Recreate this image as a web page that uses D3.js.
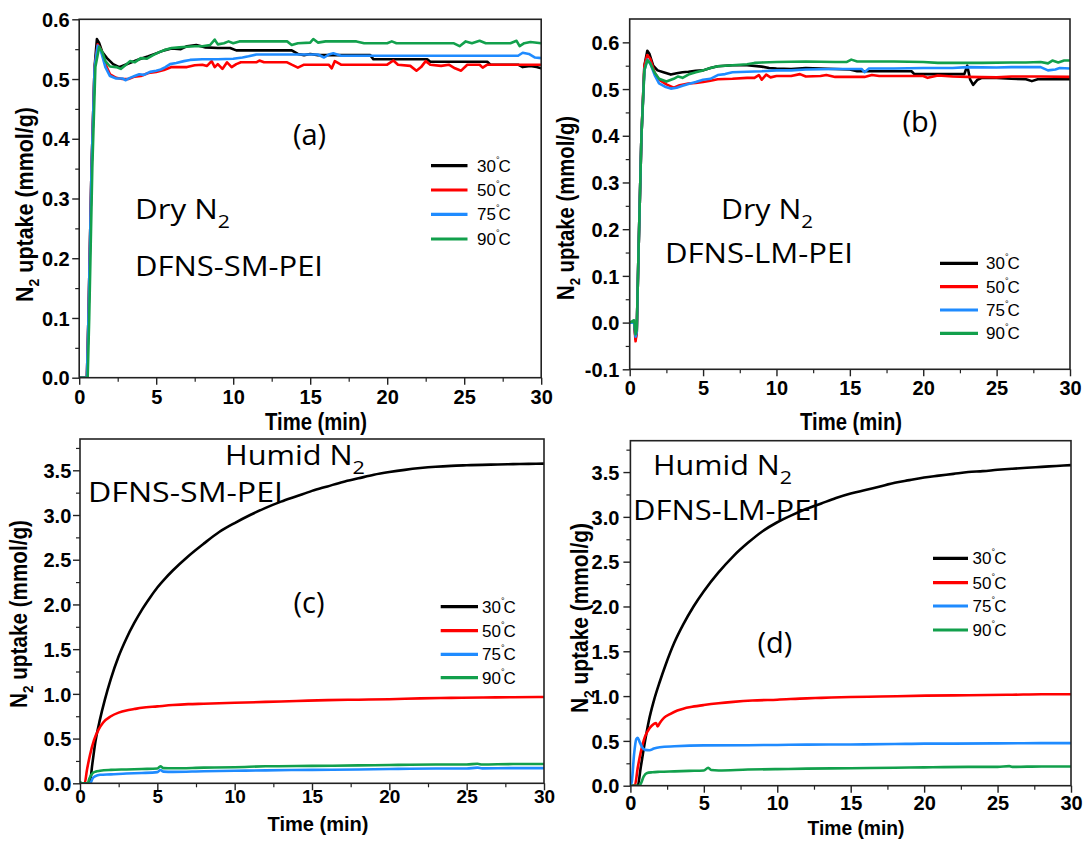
<!DOCTYPE html>
<html><head><meta charset="utf-8">
<script src="https://cdn.jsdelivr.net/npm/d3@7"></script>
<style>body{margin:0;background:#fff}svg{display:block}</style>
</head><body>
<svg id="chart" width="1087" height="845"></svg>
<script>
// ---------------- DATA ----------------
const seriesLabels = ["30", "50", "75", "90"];
const xTicks = [0, 5, 10, 15, 20, 25, 30];
const xMinorTicks = [2.5, 7.5, 12.5, 17.5, 22.5, 27.5];
const yTicksA = [0.0, 0.1, 0.2, 0.3, 0.4, 0.5, 0.6];
const yMinorA = [0.05, 0.15, 0.25, 0.35, 0.45, 0.55];
const yTicksB = [-0.1, 0.0, 0.1, 0.2, 0.3, 0.4, 0.5, 0.6];
const yMinorB = [-0.05, 0.05, 0.15, 0.25, 0.35, 0.45, 0.55];
const yTicksHumid = [0.0, 0.5, 1.0, 1.5, 2.0, 2.5, 3.0, 3.5];
const yMinorHumid = [0.25, 0.75, 1.25, 1.75, 2.25, 2.75, 3.25, 3.75];

// panel (a) Dry N2, DFNS-SM-PEI  [time (min), uptake (mmol/g)]
const a30 = [[0,0],[0.5,0],[0.6,0.1],[0.8,0.35],[1.0,0.52],[1.15,0.567],[1.3,0.56],[1.5,0.545],[1.8,0.535],[2.2,0.525],[2.6,0.52],[3.0,0.524],[3.4,0.528],[3.9,0.533],[4.5,0.538],[5.0,0.543],[5.5,0.548],[6.0,0.551],[6.6,0.55],[7.0,0.555],[7.6,0.557],[8.2,0.553],[9.0,0.552],[9.8,0.552],[10.2,0.548],[12,0.548],[13.8,0.548],[14.2,0.542],[14.6,0.54],[15,0.542],[15.5,0.54],[18.9,0.54],[19.1,0.533],[22.6,0.533],[22.8,0.529],[26.5,0.529],[26.7,0.524],[28.5,0.524],[28.8,0.52],[29.3,0.522],[29.7,0.52],[30,0.518]];
const a50 = [[0,0],[0.5,0],[0.6,0.1],[0.8,0.35],[1.0,0.52],[1.2,0.558],[1.4,0.55],[1.7,0.525],[2.0,0.508],[2.4,0.502],[2.8,0.5],[3.2,0.5],[3.6,0.504],[4.0,0.505],[4.5,0.51],[5.0,0.512],[5.5,0.515],[6.0,0.52],[6.5,0.52],[7.0,0.52],[7.5,0.523],[8.0,0.524],[8.3,0.522],[8.6,0.53],[8.8,0.52],[9.0,0.525],[9.3,0.517],[9.6,0.528],[9.9,0.52],[10.2,0.525],[10.5,0.528],[11.5,0.528],[11.7,0.531],[12,0.528],[13.5,0.528],[13.8,0.524],[14.2,0.519],[14.6,0.524],[16.2,0.524],[16.4,0.518],[16.6,0.53],[17,0.524],[20,0.524],[20.4,0.531],[20.7,0.524],[21.5,0.522],[21.9,0.514],[22.2,0.52],[22.5,0.53],[22.8,0.524],[23.5,0.522],[24,0.524],[24.4,0.518],[24.8,0.514],[25.2,0.524],[26,0.524],[26.2,0.519],[26.5,0.524],[30,0.524]];
const a75 = [[0,0],[0.5,0],[0.6,0.1],[0.8,0.35],[1.0,0.52],[1.2,0.556],[1.4,0.548],[1.7,0.52],[2.0,0.505],[2.4,0.501],[2.8,0.501],[3.0,0.498],[3.3,0.502],[3.6,0.505],[3.9,0.508],[4.2,0.507],[4.6,0.512],[5.0,0.514],[5.3,0.516],[5.6,0.52],[5.9,0.525],[6.3,0.527],[6.8,0.53],[7.2,0.532],[8,0.533],[9,0.533],[10,0.534],[10.6,0.536],[11,0.538],[11.5,0.541],[14,0.541],[15.5,0.541],[15.9,0.536],[16.2,0.541],[16.5,0.543],[17,0.539],[20,0.539],[25,0.539],[28.5,0.539],[28.8,0.544],[29.2,0.542],[29.6,0.536],[30,0.535]];
const a90 = [[0,0],[0.55,0],[0.65,0.1],[0.85,0.35],[1.05,0.52],[1.3,0.554],[1.5,0.545],[1.7,0.53],[2.0,0.521],[2.4,0.52],[2.7,0.517],[3.0,0.523],[3.3,0.53],[3.6,0.528],[4.0,0.535],[4.4,0.534],[4.8,0.54],[5.2,0.545],[5.6,0.549],[6,0.552],[6.5,0.553],[7,0.554],[7.5,0.555],[8,0.555],[8.5,0.557],[8.8,0.566],[9.0,0.558],[9.4,0.56],[9.7,0.563],[10,0.56],[10.4,0.563],[13.5,0.563],[13.8,0.557],[14.2,0.56],[15,0.561],[15.2,0.567],[15.5,0.561],[16,0.563],[18,0.563],[18.5,0.56],[20,0.56],[20.3,0.563],[20.6,0.56],[24.3,0.56],[24.7,0.555],[25.1,0.563],[25.5,0.56],[26,0.564],[26.4,0.56],[28,0.56],[28.4,0.564],[28.6,0.555],[28.9,0.56],[29.3,0.562],[30,0.56]];

// panel (b) Dry N2, DFNS-LM-PEI
const b30 = [[0,0],[0.3,0],[0.4,-0.035],[0.48,-0.02],[0.6,0.15],[0.8,0.4],[1.0,0.55],[1.2,0.582],[1.35,0.575],[1.6,0.55],[1.9,0.54],[2.3,0.536],[2.8,0.531],[3.2,0.534],[3.6,0.536],[4.0,0.537],[4.5,0.539],[5.0,0.54],[5.5,0.545],[6,0.549],[7,0.551],[8,0.551],[9,0.548],[9.5,0.545],[10,0.544],[11,0.543],[12,0.545],[13,0.544],[14,0.543],[15,0.542],[15.5,0.538],[17,0.538],[19.2,0.538],[19.4,0.532],[22.8,0.532],[23.0,0.55],[23.2,0.52],[23.4,0.509],[23.7,0.52],[24,0.524],[25,0.524],[26,0.522],[27,0.521],[27.4,0.517],[27.8,0.521],[30,0.521]];
const b50 = [[0,0],[0.3,0],[0.4,-0.04],[0.48,-0.02],[0.6,0.15],[0.8,0.4],[1.0,0.55],[1.2,0.573],[1.4,0.565],[1.7,0.535],[2.0,0.52],[2.5,0.51],[3.0,0.503],[3.4,0.508],[4,0.512],[4.5,0.513],[5,0.515],[5.5,0.518],[6,0.521],[7,0.522],[8,0.524],[8.5,0.524],[8.8,0.53],[9.0,0.52],[9.3,0.531],[9.6,0.525],[10,0.528],[11,0.528],[11.6,0.532],[12,0.527],[13,0.528],[13.4,0.53],[14,0.526],[16,0.526],[16.5,0.53],[17,0.528],[20,0.528],[20.3,0.524],[21,0.529],[22,0.527],[23,0.526],[25,0.525],[26,0.527],[28,0.527],[30,0.526]];
const b75 = [[0,0],[0.3,0],[0.4,-0.03],[0.48,-0.02],[0.6,0.15],[0.8,0.4],[1.0,0.54],[1.2,0.563],[1.4,0.555],[1.7,0.53],[2.0,0.512],[2.4,0.505],[2.8,0.501],[3.2,0.503],[3.6,0.507],[4,0.511],[4.5,0.515],[5,0.52],[5.5,0.522],[6,0.53],[6.5,0.532],[7,0.536],[8,0.537],[9,0.538],[10,0.54],[11,0.54],[12,0.542],[14,0.543],[15.8,0.543],[16,0.536],[16.3,0.544],[18,0.544],[20,0.545],[22,0.545],[23,0.547],[25,0.546],[26,0.547],[28,0.547],[28.5,0.54],[29,0.542],[29.3,0.545],[30,0.544]];
const b90 = [[0,0],[0.3,0.005],[0.4,-0.025],[0.48,-0.015],[0.6,0.15],[0.8,0.4],[1.0,0.54],[1.2,0.562],[1.4,0.555],[1.7,0.535],[2.0,0.522],[2.5,0.516],[3.0,0.522],[3.3,0.527],[3.6,0.524],[4,0.531],[4.5,0.536],[5,0.54],[5.5,0.545],[6,0.549],[7,0.551],[8,0.553],[8.5,0.556],[9,0.557],[10,0.558],[12,0.559],[14,0.558],[14.8,0.558],[15.1,0.563],[15.5,0.559],[18,0.559],[20,0.558],[21,0.556],[24,0.556],[26,0.557],[27,0.557],[28,0.558],[28.5,0.555],[28.8,0.561],[29.2,0.557],[29.6,0.561],[30,0.561]];

// panel (c) Humid N2, DFNS-SM-PEI
const c30 = [[0,0],[0.62,0],[0.8,0.22],[1.0,0.47],[1.3,0.72],[1.6,0.93],[2.0,1.17],[2.5,1.42],[3.0,1.62],[3.5,1.79],[4.0,1.94],[4.5,2.07],[5.0,2.19],[5.5,2.29],[6.0,2.38],[7.0,2.54],[8.0,2.68],[9.0,2.81],[10,2.91],[11,3.0],[12,3.08],[13,3.15],[14,3.21],[15,3.27],[16,3.32],[17,3.37],[18,3.41],[19,3.45],[20,3.48],[21,3.505],[22,3.525],[23,3.54],[24,3.55],[25,3.556],[26,3.561],[27,3.565],[28,3.569],[29,3.572],[30,3.575]];
const c50 = [[0,0],[0.3,0],[0.45,0.15],[0.65,0.32],[0.9,0.48],[1.2,0.6],[1.5,0.68],[2.0,0.75],[2.5,0.79],[3.0,0.815],[3.5,0.83],[4,0.845],[5,0.86],[6,0.875],[7,0.885],[8,0.89],[9,0.895],[10,0.9],[12,0.91],[14,0.92],[16,0.93],[18,0.935],[20,0.94],[22,0.95],[24,0.955],[26,0.96],[28,0.962],[30,0.965]];
const c75 = [[0,0],[0.6,0],[0.7,0.01],[0.8,0.05],[1.0,0.08],[1.3,0.095],[2,0.1],[3,0.11],[4,0.115],[5,0.125],[5.2,0.148],[5.4,0.13],[6,0.128],[8,0.135],[10,0.14],[12,0.145],[15,0.15],[18,0.155],[20,0.16],[23,0.165],[25,0.165],[25.7,0.175],[26,0.167],[28,0.17],[30,0.17]];
const c90 = [[0,0.02],[0.1,0.0],[0.5,0],[0.6,0.05],[0.8,0.11],[1.0,0.13],[1.3,0.14],[2,0.15],[3,0.155],[4,0.16],[5,0.165],[5.2,0.19],[5.4,0.17],[6,0.168],[8,0.175],[10,0.18],[12,0.19],[15,0.195],[18,0.2],[20,0.205],[23,0.21],[25,0.21],[25.7,0.218],[26,0.21],[28,0.215],[30,0.215]];

// panel (d) Humid N2, DFNS-LM-PEI
const d30 = [[0,0],[0.5,0],[0.7,0.2],[1.0,0.5],[1.25,0.72],[1.6,0.95],[2.0,1.16],[2.4,1.35],[3.0,1.6],[3.6,1.8],[4.3,2.0],[5,2.17],[6,2.38],[7,2.56],[8,2.71],[9,2.84],[10,2.94],[11,3.02],[12,3.09],[13,3.15],[14,3.21],[15,3.26],[16,3.3],[17,3.34],[18,3.38],[19,3.41],[20,3.44],[21,3.46],[22,3.48],[23,3.5],[24,3.51],[25,3.525],[26,3.537],[27,3.548],[28,3.558],[29,3.568],[30,3.578]];
const d50 = [[0,0],[0.3,0],[0.5,0.2],[0.7,0.37],[1.0,0.55],[1.3,0.64],[1.6,0.69],[1.75,0.7],[1.85,0.66],[2.0,0.7],[2.3,0.76],[2.7,0.8],[3.2,0.84],[3.6,0.86],[4.2,0.88],[5,0.9],[6,0.92],[7,0.935],[8.3,0.95],[10,0.96],[12,0.975],[13,0.98],[15,0.99],[17,0.995],[20.1,1.005],[23,1.01],[26,1.015],[28,1.02],[30,1.02]];
const d75 = [[0,0],[0.1,0.05],[0.25,0.35],[0.4,0.52],[0.5,0.535],[0.6,0.5],[0.8,0.43],[1.0,0.4],[1.3,0.395],[1.6,0.415],[2,0.43],[3,0.44],[5,0.45],[8,0.452],[10,0.455],[12,0.458],[15,0.46],[18,0.465],[20,0.47],[22,0.47],[25,0.472],[28,0.475],[30,0.475]];
const d90 = [[0,0],[0.6,0],[0.7,0.02],[0.9,0.1],[1.1,0.14],[1.5,0.15],[2,0.155],[3,0.16],[4,0.165],[5,0.17],[5.3,0.2],[5.5,0.175],[6,0.17],[8,0.18],[10,0.185],[12,0.19],[15,0.195],[18,0.2],[20,0.205],[23,0.21],[25,0.21],[25.8,0.218],[26,0.21],[28,0.215],[30,0.215]];

// ---------------- STYLE / LAYOUT ----------------
const colors = ["#000000", "#ff0000", "#1f8bff", "#12a04c"];
const SANS = "'Liberation Sans', Arial, sans-serif";
const ANNO = "'Open Sans', 'Noto Sans', sans-serif";

const panels = [
  { series: [a30, a50, a75, a90], smooth: false, xr: [79.2, 541.2], yr: [377.7, 19.3], ydom: [0, 0.6],
    yTicks: yTicksA, yMinor: yMinorA, xLabOff: 26.6, xLabFs: 20, yLabGap: 9.5,
    xTitle: {cx: 316, by: 430, fs: 24, len: 102},
    yTitle: {bx: 33, cy: 204.5, len: 195},
    legend: {x1: 431, x2: 467.5, ys: [165.7, 190, 214.3, 239], tx: 477},
    annos: [
      {t: "(a)", x: 309.5, y: 145, fs: 29, anchor: "middle"},
      {t: "Dry N", sub: "2", x: 135, y: 219, fs: 28, len: 95},
      {t: "DFNS-SM-PEI", x: 135, y: 276, fs: 28, len: 188}
    ]},
  { series: [b30, b50, b75, b90], smooth: false, xr: [629.7, 1070], yr: [369.3, 19], ydom: [-0.1, 0.65],
    yTicks: yTicksB, yMinor: yMinorB, xLabOff: 25.7, xLabFs: 20, yLabGap: 10.4,
    xTitle: {cx: 851, by: 430, fs: 24, len: 102},
    yTitle: {bx: 574.4, cy: 208, len: 184},
    legend: {x1: 940, x2: 978, ys: [263.3, 286.7, 310, 333.3], tx: 986},
    annos: [
      {t: "(b)", x: 920, y: 132, fs: 29, anchor: "middle"},
      {t: "Dry N", sub: "2", x: 721, y: 219, fs: 28, len: 92},
      {t: "DFNS-LM-PEI", x: 665, y: 263, fs: 28, len: 188}
    ]},
  { series: [c30, c50, c75, c90], smooth: true, xr: [80, 544], yr: [783.3, 439], ydom: [0, 3.85],
    yTicks: yTicksHumid, yMinor: yMinorHumid, xLabOff: 19.5, xLabFs: 19, yLabGap: 8.7,
    xTitle: {cx: 318, by: 830.7, fs: 21, len: 101},
    yTitle: {bx: 26.5, cy: 614, len: 188},
    legend: {x1: 440.7, x2: 478, ys: [606.7, 630.7, 654.3, 677.7], tx: 482},
    annos: [
      {t: "Humid N", sub: "2", x: 225, y: 465, fs: 27, len: 140},
      {t: "DFNS-SM-PEI", x: 88, y: 502, fs: 28, len: 195},
      {t: "(c)", x: 309, y: 613, fs: 29, anchor: "middle"}
    ]},
  { series: [d30, d50, d75, d90], smooth: true, xr: [630.4, 1071], yr: [785.7, 440.7], ydom: [0, 3.85],
    yTicks: yTicksHumid, yMinor: yMinorHumid, xLabOff: 24.3, xLabFs: 20, yLabGap: 11,
    xTitle: {cx: 856, by: 835, fs: 21, len: 97},
    yTitle: {bx: 588, cy: 618, len: 190},
    legend: {x1: 933, x2: 968, ys: [558.3, 582.7, 606, 630], tx: 972.6},
    annos: [
      {t: "Humid N", sub: "2", x: 653, y: 475, fs: 27, len: 139},
      {t: "DFNS-LM-PEI", x: 633, y: 520, fs: 28, len: 187},
      {t: "(d)", x: 775, y: 653, fs: 29, anchor: "middle"}
    ]}
];

const svg = d3.select("#chart");
const fmt1 = v => v.toFixed(1);

panels.forEach((p, pi) => {
  const x = d3.scaleLinear().domain([0, 30]).range(p.xr);
  const y = d3.scaleLinear().domain(p.ydom).range(p.yr);
  const g = svg.append("g");
  const clipId = "clip" + pi;
  svg.append("clipPath").attr("id", clipId).append("rect")
    .attr("x", p.xr[0]).attr("y", p.yr[1]).attr("width", p.xr[1] - p.xr[0]).attr("height", p.yr[0] - p.yr[1]);

  // data lines
  const line = d3.line().x(d => x(d[0])).y(d => y(d[1]))
    .curve(p.smooth ? d3.curveMonotoneX : d3.curveLinear);
  const lg = g.append("g").attr("clip-path", `url(#${clipId})`);
  p.series.forEach((s, i) => {
    lg.append("path").datum(s).attr("d", line).attr("fill", "none")
      .attr("stroke", colors[i]).attr("stroke-width", 2.6).attr("stroke-linejoin", "round");
  });

  // axes
  const xAxis = g.append("g").attr("transform", `translate(0,${p.yr[0]})`)
    .call(d3.axisBottom(x).tickValues(xTicks).tickSize(7).tickFormat(d3.format("d")));
  xAxis.select(".domain").remove();
  xAxis.selectAll("line").attr("stroke", "#222").attr("stroke-width", 1.4);
  xAxis.selectAll("text").attr("y", p.xLabOff).attr("dy", null)
    .attr("font-family", SANS).attr("font-weight", "bold").attr("font-size", p.xLabFs).attr("fill", "#000");
  const xMin = g.append("g").attr("transform", `translate(0,${p.yr[0]})`)
    .call(d3.axisBottom(x).tickValues(xMinorTicks).tickSize(4).tickFormat(""));
  xMin.select(".domain").remove();
  xMin.selectAll("line").attr("stroke", "#222").attr("stroke-width", 1.2);

  const yAxis = g.append("g").attr("transform", `translate(${p.xr[0]},0)`)
    .call(d3.axisLeft(y).tickValues(p.yTicks).tickSize(7).tickFormat(fmt1));
  yAxis.select(".domain").remove();
  yAxis.selectAll("line").attr("stroke", "#222").attr("stroke-width", 1.4);
  yAxis.selectAll("text").attr("x", -p.yLabGap).attr("dy", "0.36em")
    .attr("font-family", SANS).attr("font-weight", "bold").attr("font-size", 20).attr("fill", "#000");
  const yMin = g.append("g").attr("transform", `translate(${p.xr[0]},0)`)
    .call(d3.axisLeft(y).tickValues(p.yMinor).tickSize(4).tickFormat(""));
  yMin.select(".domain").remove();
  yMin.selectAll("line").attr("stroke", "#222").attr("stroke-width", 1.2);

  // frame
  g.append("rect").attr("x", p.xr[0]).attr("y", p.yr[1])
    .attr("width", p.xr[1] - p.xr[0]).attr("height", p.yr[0] - p.yr[1])
    .attr("fill", "none").attr("stroke", "#222").attr("stroke-width", 1.6);

  // axis titles
  g.append("text").attr("x", p.xTitle.cx).attr("y", p.xTitle.by)
    .attr("text-anchor", "middle").attr("font-family", SANS).attr("font-weight", "bold")
    .attr("font-size", p.xTitle.fs).attr("textLength", p.xTitle.len).attr("lengthAdjust", "spacingAndGlyphs")
    .text("Time (min)");
  const yt = g.append("text").attr("transform", `translate(${p.yTitle.bx},${p.yTitle.cy}) rotate(-90)`)
    .attr("text-anchor", "middle").attr("font-family", SANS).attr("font-weight", "bold")
    .attr("font-size", 23).attr("textLength", p.yTitle.len).attr("lengthAdjust", "spacingAndGlyphs");
  yt.append("tspan").text("N");
  yt.append("tspan").attr("font-size", 15).attr("dy", 6).text("2");
  yt.append("tspan").attr("dy", -6).text(" uptake (mmol/g)");

  // legend
  seriesLabels.forEach((lab, i) => {
    const ly = p.legend.ys[i];
    g.append("line").attr("x1", p.legend.x1).attr("x2", p.legend.x2).attr("y1", ly).attr("y2", ly)
      .attr("stroke", colors[i]).attr("stroke-width", 3.2);
    const t = g.append("text").attr("x", p.legend.tx).attr("y", ly + 6)
      .attr("font-family", SANS).attr("font-size", 17).attr("fill", "#000");
    t.append("tspan").text(lab);
    t.append("tspan").attr("font-size", 9).attr("dy", -9).text("°");
    t.append("tspan").attr("dy", 9).attr("dx", -1).text("C");
  });

  // annotations
  p.annos.forEach(a => {
    const t = g.append("text").attr("x", a.x).attr("y", a.y)
      .attr("font-family", ANNO).attr("font-size", a.fs).attr("fill", "#000")
      .attr("text-anchor", a.anchor || "start");
    if (a.len) t.attr("textLength", a.len).attr("lengthAdjust", "spacingAndGlyphs");
    t.append("tspan").text(a.t);
    if (a.sub) t.append("tspan").attr("font-size", 19).attr("dy", 9).text(a.sub);
  });
});
</script>
</body></html>
